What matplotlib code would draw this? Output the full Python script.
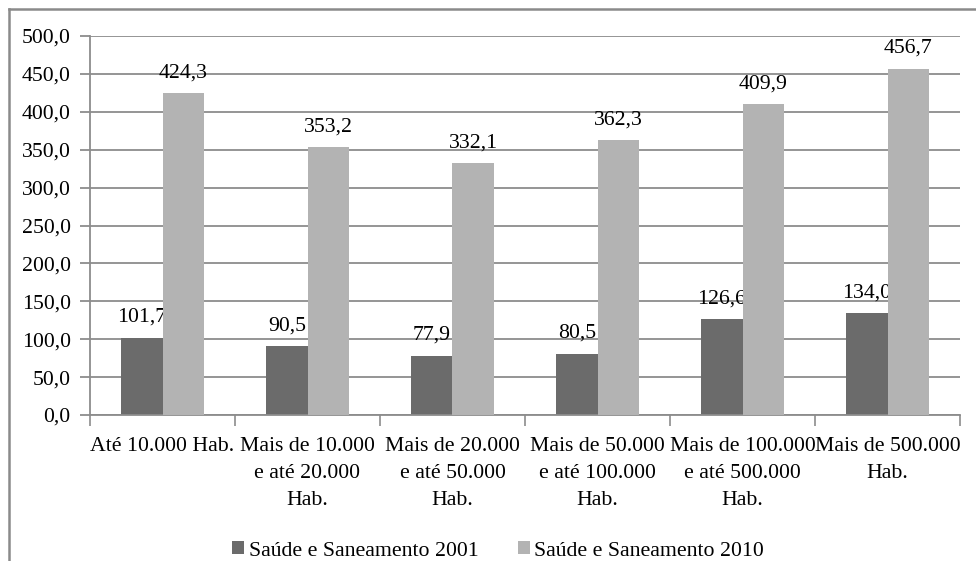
import numpy as np
import matplotlib
matplotlib.use("Agg")
import matplotlib.pyplot as plt
from matplotlib.lines import Line2D

# =========================
# Data
# =========================
categories = [
    "Até 10.000 Hab.",
    "Mais de 10.000\ne até 20.000\nHab.",
    "Mais de 20.000\ne até 50.000\nHab.",
    "Mais de 50.000\ne até 100.000\nHab.",
    "Mais de 100.000\ne até 500.000\nHab.",
    "Mais de 500.000\nHab.",
]
values_2001 = [101.7, 90.5, 77.9, 80.5, 126.6, 134.0]
values_2010 = [424.3, 353.2, 332.1, 362.3, 409.9, 456.7]
series_names = ["Saúde e Saneamento 2001", "Saúde e Saneamento 2010"]
y_ticks = [0, 50, 100, 150, 200, 250, 300, 350, 400, 450, 500]

plt.rcParams["font.family"] = ["Liberation Serif", "DejaVu Serif"]
FS = 15.7

def fmt(v):
    return f"{v:.1f}".replace(".", ",")

# =========================
# Figure
# =========================
fig = plt.figure(figsize=(9.76, 5.61), dpi=100)
ax = fig.add_axes([90 / 976, 1 - 415 / 561, 870 / 976, 379 / 561])

x = np.arange(len(categories))
w = 0.286

dark = "#6b6b6b"
light = "#b3b3b3"
gridc = "#8c8c8c"

b1 = ax.bar(x - w / 2, values_2001, width=w, color=dark, zorder=2, label=series_names[0])
b2 = ax.bar(x + w / 2, values_2010, width=w, color=light, zorder=4, label=series_names[1])

# value labels (2001 labels sit under the 2010 bars)
for xi, v in zip(x - w / 2, values_2001):
    ax.annotate(fmt(v), (xi, v), xytext=(0, 11.5), textcoords="offset points",
                ha="center", va="baseline", fontsize=FS, zorder=3)
for xi, v in zip(x + w / 2, values_2010):
    ax.annotate(fmt(v), (xi, v), xytext=(0, 11.5), textcoords="offset points",
                ha="center", va="baseline", fontsize=FS, zorder=5)

# =========================
# Axes styling
# =========================
ax.set_xlim(-0.5, len(categories) - 0.5)
ax.set_ylim(0, 500)
ax.set_yticks(y_ticks)
ax.set_yticklabels([fmt(t) for t in y_ticks], fontsize=FS)
ax.yaxis.grid(True, color=gridc, linewidth=1.3, zorder=0)
ax.set_axisbelow(True)

ax.set_xticks(x)
ax.set_xticklabels(categories, fontsize=FS, linespacing=1.55)
ax.set_xticks(np.arange(-0.5, len(categories)), minor=True)
ax.tick_params(axis="x", which="major", length=0, pad=16)
ax.tick_params(axis="x", which="minor", length=8, color=gridc, width=1.2)
ax.tick_params(axis="y", length=7, color=gridc, width=1.3, pad=7)

for s in ["top", "right"]:
    ax.spines[s].set_visible(False)
for s in ["left", "bottom"]:
    ax.spines[s].set_color(gridc)
    ax.spines[s].set_linewidth(1.3)

# =========================
# Legend
# =========================
fig.legend(handles=[b1, b2], labels=series_names, loc="center",
           bbox_to_anchor=(498 / 976, 1 - 551 / 561), ncol=2, frameon=False,
           fontsize=FS, handlelength=0.55, handleheight=0.55,
           handletextpad=0.2, columnspacing=1.8, borderpad=0)

# outer frame (left and top only, rest is cropped)
fig.add_artist(Line2D([9 / 976, 9 / 976], [0, 1 - 9 / 561], transform=fig.transFigure,
                      color="#8a8a8a", linewidth=1.8))
fig.add_artist(Line2D([9 / 976, 1], [1 - 9 / 561, 1 - 9 / 561], transform=fig.transFigure,
                      color="#8a8a8a", linewidth=1.8))

fig.savefig("out.png", dpi=100)
